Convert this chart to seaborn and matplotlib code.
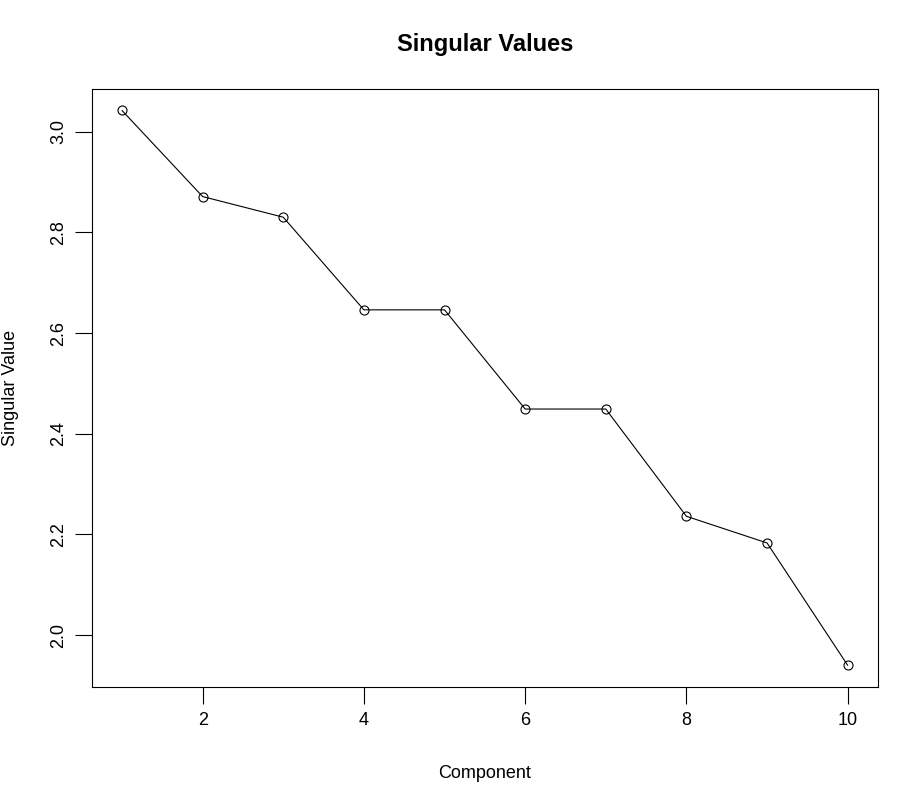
import numpy as np
import pandas as pd
import matplotlib
matplotlib.use("Agg")
import matplotlib.pyplot as plt
import seaborn as sns

component = [1, 2, 3, 4, 5, 6, 7, 8, 9, 10]
singular_value = [3.042, 2.871, 2.830, 2.646, 2.646, 2.449, 2.449, 2.236, 2.183, 1.940]

df = pd.DataFrame({"Component": component, "Singular Value": singular_value})

sns.set_style("white")
plt.rcParams['font.family'] = ['Liberation Sans', 'DejaVu Sans']
plt.rcParams['text.color'] = 'black'
plt.rcParams['axes.labelcolor'] = 'black'

fig = plt.figure(figsize=(9.2, 7.86), dpi=100)
ax = fig.add_axes([0.1, 0.126, 0.854, 0.761])

sns.lineplot(data=df, x="Component", y="Singular Value", ax=ax, color="black",
             linewidth=0.8, marker="o", markersize=6.5, markerfacecolor="none",
             markeredgecolor="black", markeredgewidth=0.8)

ax.set_xlim(0.628, 10.372)
ax.set_ylim(1.897, 3.085)
ax.set_xticks([2, 4, 6, 8, 10])
ax.set_yticks([2.0, 2.2, 2.4, 2.6, 2.8, 3.0])
ax.set_yticklabels(["2.0", "2.2", "2.4", "2.6", "2.8", "3.0"], rotation=90, va="center")
ax.tick_params(axis="both", direction="out", length=12, width=0.8, labelsize=13,
               bottom=True, left=True, pad=6, colors="black")
for s in ax.spines.values():
    s.set_color("black")
    s.set_linewidth(0.8)

ax.set_xlabel("Component", fontsize=13, labelpad=26)
ax.set_ylabel("Singular Value", fontsize=13, labelpad=22)
ax.set_title("Singular Values", fontsize=17, fontweight="bold", pad=27, color="black")

fig.savefig("out.png", dpi=100)
